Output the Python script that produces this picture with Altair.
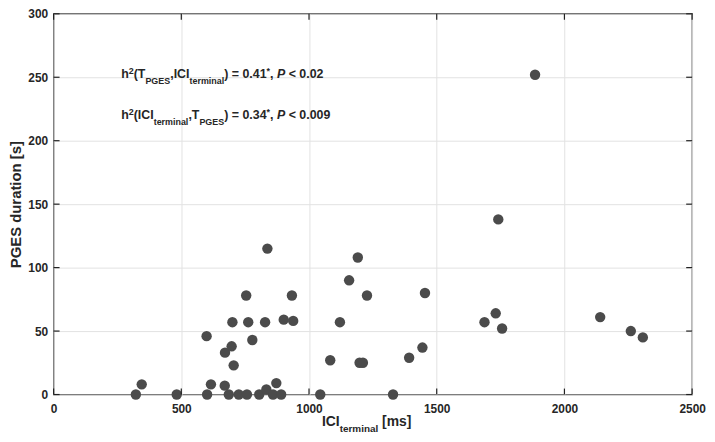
import altair as alt
import pandas as pd

# ---- data ----
ici_terminal = [322, 345, 482, 601, 599, 616, 671, 670, 686, 697, 700, 705, 725, 754,
                757, 762, 778, 805, 828, 833, 837, 859, 872, 891, 901, 933, 938, 1044,
                1083, 1121, 1157, 1191, 1198, 1211, 1227, 1329, 1392, 1444, 1454, 1687,
                1731, 1741, 1756, 1885, 2140, 2260, 2307]
pges_duration = [0, 8, 0, 0, 46, 8, 33, 7, 0, 38, 57, 23, 0, 78,
                 0, 57, 43, 0, 57, 4, 115, 0, 9, 0, 59, 78, 58, 0,
                 27, 57, 90, 108, 25, 25, 78, 0, 29, 37, 80, 57,
                 64, 138, 52, 252, 61, 50, 45]
x_ticks = [0, 500, 1000, 1500, 2000, 2500]
y_ticks = [0, 50, 100, 150, 200, 250, 300]

line1 = [("h", "m"), ("2", "sup"), ("(T", "m"), ("PGES", "sub"), (",ICI", "m"),
         ("terminal", "sub"), (") = 0.41", "m"), ("*", "sup"), (", ", "m"),
         ("P", "it"), (" < 0.02", "m")]
line2 = [("h", "m"), ("2", "sup"), ("(ICI", "m"), ("terminal", "sub"), (",T", "m"),
         ("PGES", "sub"), (") = 0.34", "m"), ("*", "sup"), (", ", "m"),
         ("P", "it"), (" < 0.009", "m")]
xtitle = [("ICI", "m"), ("terminal", "sub"), (" [ms]", "m")]
ytitle = "PGES duration [s]"

# ---- layout ----
W, H = 644, 384
FONT = "Liberation Sans"
TXT = "#262626"

def rx(x):  # reference page x -> view x
    return (x - 46) * W / 652

def ry(y):  # reference page y -> view y
    return (y - 6) * H / 390

AW = {' ': 278, '(': 333, ')': 333, '*': 389, ',': 278, '.': 278, '<': 584, '=': 584,
      '[': 333, ']': 333, 'C': 722, 'E': 667, 'G': 778, 'I': 278, 'P': 667, 'S': 667,
      'T': 611, 'a': 556, 'e': 556, 'h': 611, 'i': 278, 'l': 278, 'm': 889, 'n': 611,
      'r': 389, 's': 556, 't': 333}

def tw(s, size):
    return sum(AW.get(c, 556) for c in s) * size / 1000

def text_layers(pieces, x0, base, fm, fsub, sub_dy, sup_dy):
    layers = []
    x = x0
    for txt, kind in pieces:
        size = fm if kind in ("m", "it") else fsub
        lead = len(txt) - len(txt.lstrip(" "))
        shown = txt.strip(" ")
        y = base + (sub_dy if kind == "sub" else (sup_dy if kind == "sup" else 0))
        layers.append(
            alt.Chart(pd.DataFrame({"k": [0]})).mark_text(
                align="left", baseline="alphabetic", font=FONT, fontSize=size,
                fontWeight="bold", fontStyle="italic" if kind == "it" else "normal",
                color=TXT,
            ).encode(x=alt.value(x + tw(" " * lead, size)), y=alt.value(y),
                     text=alt.value(shown))
        )
        x += tw(txt, size)
    return layers

df = pd.DataFrame({"ici": ici_terminal, "pges": pges_duration})
xscale = alt.Scale(domain=[0, 2500], nice=False, zero=False)
yscale = alt.Scale(domain=[0, 300], nice=False, zero=False)

x_axis = alt.Axis(values=x_ticks, title=None, grid=True, ticks=False, tickSize=0,
                  domain=False, labelPadding=9, labelFontSize=12, format="d",
                  labelFontWeight="bold", labelFont=FONT, labelColor=TXT,
                  gridColor="#e2e2e2", gridWidth=1, labelFlush=False)
y_axis = alt.Axis(values=y_ticks, title=ytitle, grid=True, ticks=False, tickSize=0,
                  domain=False, labelPadding=6, labelFontSize=12, format="d",
                  labelFontWeight="bold", labelFont=FONT, labelColor=TXT,
                  gridColor="#e2e2e2", gridWidth=1, labelFlush=False,
                  titleFont=FONT, titleFontSize=15, titleFontWeight="bold",
                  titleColor=TXT, titlePadding=4)

points = alt.Chart(df).mark_circle(size=110, color="#4b4b4b", opacity=1).encode(
    x=alt.X("ici:Q", scale=xscale, axis=x_axis),
    y=alt.Y("pges:Q", scale=yscale, axis=y_axis),
)

xt = pd.DataFrame({"t": x_ticks})
yt = pd.DataFrame({"t": y_ticks})
TL = 6
tick_style = dict(color="#222222", strokeWidth=1.2)
ticks = [
    alt.Chart(xt).mark_rule(**tick_style).encode(
        x=alt.X("t:Q", scale=xscale, axis=x_axis), y=alt.value(H), y2=alt.value(H - TL)),
    alt.Chart(xt).mark_rule(**tick_style).encode(
        x=alt.X("t:Q", scale=xscale, axis=x_axis), y=alt.value(0), y2=alt.value(TL)),
    alt.Chart(yt).mark_rule(**tick_style).encode(
        y=alt.Y("t:Q", scale=yscale, axis=y_axis), x=alt.value(0), x2=alt.value(TL)),
    alt.Chart(yt).mark_rule(**tick_style).encode(
        y=alt.Y("t:Q", scale=yscale, axis=y_axis), x=alt.value(W), x2=alt.value(W - TL)),
]

annot = (text_layers(line1, rx(115), ry(72), 12.5, 9, 6, -4)
         + text_layers(line2, rx(115), ry(114), 12.5, 9, 6, -4)
         + text_layers(xtitle, rx(320), ry(428), 14, 10, 6, 0))

chart = alt.layer(points, *ticks, *annot).properties(
    width=W, height=H,
    autosize=alt.AutoSizeParams(type="none"),
    padding={"left": 46, "top": 4, "right": 15, "bottom": 42},
).configure_view(stroke="#222222", strokeWidth=1.3)

chart.save("out.html", embed_options={"renderer": "svg", "actions": False})
